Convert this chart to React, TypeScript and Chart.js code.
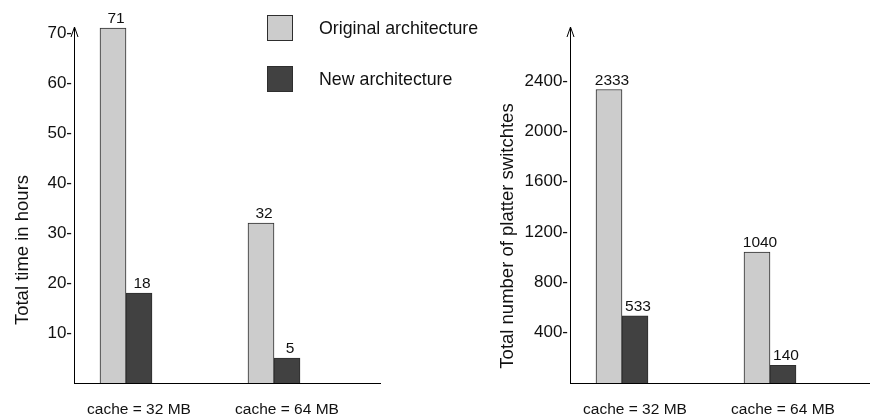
import React, { useEffect, useRef } from "react";
import { Chart, registerables } from "chart.js";

Chart.register(...registerables);

// ---- data ----
const categories = ["cache = 32 MB", "cache = 64 MB"];
const seriesNames = ["Original architecture", "New architecture"];
const timeOriginal = [71, 32];
const timeNew = [18, 5];
const switchesOriginal = [2333, 1040];
const switchesNew = [533, 140];
const timeTicks = [10, 20, 30, 40, 50, 60, 70];
const switchTicks = [400, 800, 1200, 1600, 2000, 2400];
const timeTitle = "Total time in hours";
const switchTitle = "Total number of platter switchtes";

// ---- style ----
const FONT = "'Liberation Sans', Arial, Helvetica, sans-serif";
const LIGHT = "#cccccc";
const DARK = "#414141";
const EDGE = "#2e2e2e";
const TEXT = "#111111";

const valueLabelPlugin = {
  id: "valueLabels",
  afterDatasetsDraw(chart: any) {
    const ctx = chart.ctx;
    ctx.save();
    ctx.font = `15.5px ${FONT}`;
    ctx.fillStyle = TEXT;
    ctx.textAlign = "center";
    ctx.textBaseline = "alphabetic";
    chart.data.datasets.forEach((ds: any, di: number) => {
      const meta = chart.getDatasetMeta(di);
      meta.data.forEach((el: any, i: number) => {
        const v = ds.data[i].y;
        ctx.fillText(String(v), el.x + 3, el.y - 5);
      });
    });
    ctx.restore();
  },
};

const axisDecorPlugin = {
  id: "axisDecor",
  afterDraw(chart: any, _args: any, opts: any) {
    const ctx = chart.ctx;
    const { left, top } = chart.chartArea;
    ctx.save();
    // arrow head on the y axis
    ctx.strokeStyle = "#000";
    ctx.lineWidth = 1;
    ctx.beginPath();
    ctx.moveTo(left - 3, top + 10);
    ctx.lineTo(left + 0.5, top);
    ctx.lineTo(left + 4, top + 10);
    ctx.stroke();
    // y axis title
    ctx.font = `18.5px ${FONT}`;
    ctx.fillStyle = TEXT;
    ctx.textAlign = "center";
    ctx.textBaseline = "alphabetic";
    ctx.translate(opts.titleX, opts.titleY);
    ctx.rotate(-Math.PI / 2);
    ctx.fillText(opts.title, 0, 0);
    ctx.restore();
  },
};

const legendPlugin = {
  id: "customLegend",
  afterDraw(chart: any, _args: any, opts: any) {
    if (!opts || !opts.show) return;
    const ctx = chart.ctx;
    ctx.save();
    chart.data.datasets.forEach((ds: any, i: number) => {
      const bx = opts.x;
      const by = opts.y + i * opts.step;
      ctx.fillStyle = ds.backgroundColor;
      ctx.fillRect(bx, by, opts.box, opts.box);
      ctx.strokeStyle = EDGE;
      ctx.lineWidth = 1;
      ctx.strokeRect(bx + 0.5, by + 0.5, opts.box - 1, opts.box - 1);
      ctx.font = `17.8px ${FONT}`;
      ctx.fillStyle = TEXT;
      ctx.textAlign = "left";
      ctx.textBaseline = "alphabetic";
      ctx.fillText(ds.label, opts.textX, by + 19);
    });
    ctx.restore();
  },
};

function buildConfig(
  orig: number[],
  neu: number[],
  ticks: number[],
  yMax: number,
  yWidth: number,
  xMin: number,
  xMax: number,
  padRight: number,
  title: string,
  titleX: number,
  titleY: number,
  showLegend: boolean
): any {
  return {
    type: "bar",
    data: {
      datasets: [
        {
          label: seriesNames[0],
          data: orig.map((v, i) => ({ x: i, y: v })),
          backgroundColor: LIGHT,
          borderColor: EDGE,
          borderWidth: 1,
        },
        {
          label: seriesNames[1],
          data: neu.map((v, i) => ({ x: i, y: v })),
          backgroundColor: DARK,
          borderColor: EDGE,
          borderWidth: 1,
        },
      ],
    },
    options: {
      animation: false,
      responsive: false,
      devicePixelRatio: 1,
      layout: { padding: { left: 0, right: padRight, top: 27, bottom: 0 } },
      barThickness: 26,
      plugins: {
        legend: { display: false },
        tooltip: { enabled: false },
        axisDecor: { title, titleX, titleY },
        customLegend: { show: showLegend, x: 267, y: 15, step: 51, box: 26, textX: 319 },
      },
      scales: {
        x: {
          type: "linear",
          offset: false,
          min: xMin,
          max: xMax,
          afterBuildTicks: (s: any) => {
            s.ticks = categories.map((_, i) => ({ value: i }));
          },
          afterFit: (s: any) => {
            s.height = 37;
          },
          grid: { display: false, drawTicks: false },
          border: { display: true, color: "#000", width: 1 },
          ticks: {
            autoSkip: false,
            maxRotation: 0,
            padding: 17,
            labelOffset: 13,
            color: TEXT,
            font: { family: FONT, size: 15.5 },
            callback: (_v: any, i: number) => categories[i],
          },
        },
        y: {
          type: "linear",
          min: 0,
          max: yMax,
          afterBuildTicks: (s: any) => {
            s.ticks = ticks.map((v) => ({ value: v }));
          },
          afterFit: (s: any) => {
            s.width = yWidth;
          },
          grid: { display: false, drawTicks: false },
          border: { display: true, color: "#000", width: 1 },
          ticks: {
            padding: 2,
            color: TEXT,
            font: { family: FONT, size: 17 },
            callback: (v: any) => `${v}-`,
          },
        },
      },
    },
    plugins: [valueLabelPlugin, axisDecorPlugin, legendPlugin],
  };
}

export default function App() {
  const leftRef = useRef<HTMLCanvasElement>(null);
  const rightRef = useRef<HTMLCanvasElement>(null);

  useEffect(() => {
    const unit = 148;
    const xMin = -52 / unit;
    const left = new Chart(
      leftRef.current as HTMLCanvasElement,
      buildConfig(timeOriginal, timeNew, timeTicks, 71.2, 74, xMin, xMin + 306 / unit, 105, timeTitle, 28, 250, true)
    );
    const right = new Chart(
      rightRef.current as HTMLCanvasElement,
      buildConfig(switchesOriginal, switchesNew, switchTicks, 2830, 85, xMin, xMin + 300 / unit, 0, switchTitle, 28, 236, false)
    );
    return () => {
      left.destroy();
      right.destroy();
    };
  }, []);

  return (
    <div style={{ position: "absolute", left: 0, top: 0, width: 870, height: 420, background: "#fff" }}>
      <canvas ref={leftRef} width={485} height={420} style={{ position: "absolute", left: 0, top: 0 }} />
      <canvas ref={rightRef} width={385} height={420} style={{ position: "absolute", left: 485, top: 0 }} />
    </div>
  );
}
